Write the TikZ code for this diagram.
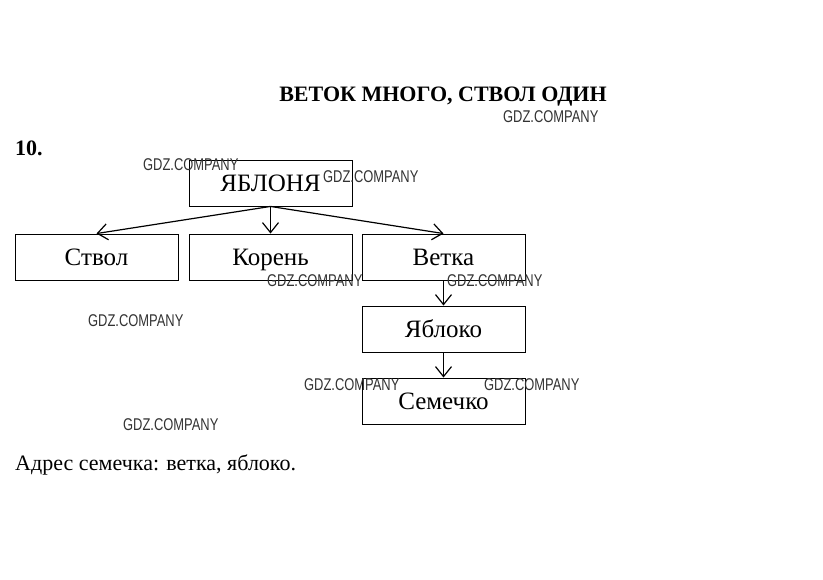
\documentclass[tikz,border=0pt]{standalone}
\usepackage{fontspec}
\setmainfont{Liberation Serif}
\newfontfamily\wmfont{Liberation Sans}
\usetikzlibrary{arrows.meta}
\begin{document}
\begin{tikzpicture}[x=1pt,y=-1pt,
  box/.style={draw, line width=0.9pt, minimum width=163pt, minimum height=46pt, inner sep=0pt, text height=19.5pt, text depth=2.5pt, font=\fontsize{25}{27}\selectfont},
  conn/.style={line width=1.2pt, -{Straight Barb[length=10pt,width=16pt,line width=1.2pt]}},
  wm/.style={anchor=west, inner sep=0pt, xscale=0.76, text=black!80, font=\wmfont\fontsize{17}{18}\selectfont}]
\useasboundingbox (0,0) rectangle (823,580);
\fill[white] (0,0) rectangle (823,580);
\node[font=\bfseries\fontsize{22}{24}\selectfont] (title) at (443,97) {ВЕТОК МНОГО, СТВОЛ ОДИН};
\node[anchor=west, inner sep=0pt, font=\bfseries\fontsize{22}{24}\selectfont] (num) at (15,148) {10.};
\node[box] (apple) at (270.5,183) {ЯБЛОНЯ};
\node[box] (trunk) at (96.5,257) {Ствол};
\node[box] (root) at (270.5,257) {Корень};
\node[box] (branch) at (443.5,257) {Ветка};
\node[box] (fruit) at (443.5,329) {Яблоко};
\node[box] (seed) at (443.5,401) {Семечко};
\draw[conn] (apple.south) -- (trunk.north);
\draw[conn] (apple.south) -- (root.north);
\draw[conn] (apple.south) -- (branch.north);
\draw[conn] (branch.south) -- (fruit.north);
\draw[conn] (fruit.south) -- (seed.north);
\node[anchor=west, inner sep=0pt, font=\fontsize{22}{24}\selectfont] (addr) at (15,465) {Адрес семечка: ветка, яблоко.};
\node[wm] (w1) at (503,117) {GDZ.COMPANY};
\node[wm] (w2) at (143,165) {GDZ.COMPANY};
\node[wm] (w3) at (323,177) {GDZ.COMPANY};
\node[wm] (w4) at (267,281) {GDZ.COMPANY};
\node[wm] (w5) at (447,281) {GDZ.COMPANY};
\node[wm] (w6) at (88,321) {GDZ.COMPANY};
\node[wm] (w7) at (304,385) {GDZ.COMPANY};
\node[wm] (w8) at (484,385) {GDZ.COMPANY};
\node[wm] (w9) at (123,425) {GDZ.COMPANY};
\end{tikzpicture}
\end{document}
